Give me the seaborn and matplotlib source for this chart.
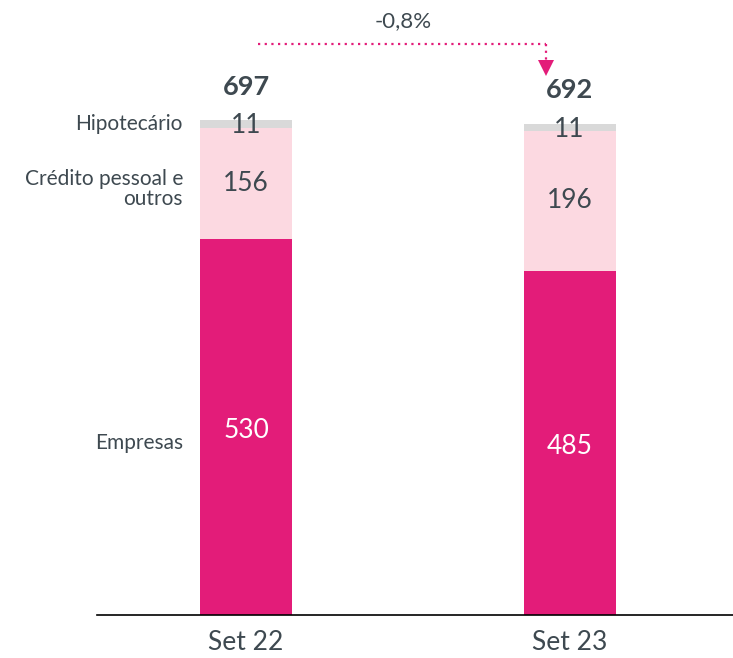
import numpy as np
import pandas as pd
import matplotlib.pyplot as plt
import seaborn as sns

# ==== Data ====
periods = ["Set 22", "Set 23"]
empresas = [530, 485]
credito = [156, 196]
hipotecario = [11, 11]
totals = [697, 692]
change_label = "-0,8%"
series_names = ["Empresas", "Crédito pessoal e\noutros", "Hipotecário"]

sns.set_theme(style="white")
plt.rcParams['font.family'] = ['Lato', 'DejaVu Sans']

txt = "#3E4950"
pink = "#E31C79"
light_pink = "#FCD9E1"
grey = "#D9D9D9"

df = pd.DataFrame({"period": periods, "empresas": empresas,
                   "credito": credito, "hipotecario": hipotecario})
df["base2"] = df["empresas"] + df["credito"]

fig = plt.figure(figsize=(7.33, 6.58), dpi=100)
ax = fig.add_axes([97 / 733, 1 - 615 / 658, 636 / 733, 615 / 658])

w = 0.284
sns.barplot(data=df, x="period", y="empresas", color=pink, width=w, ax=ax,
            saturation=1, linewidth=0)
sns.barplot(data=df, x="period", y="credito", bottom=df["empresas"], color=light_pink,
            width=w, ax=ax, saturation=1, linewidth=0)
sns.barplot(data=df, x="period", y="hipotecario", bottom=df["base2"], color=grey,
            width=w, ax=ax, saturation=1, linewidth=0)

ax.set_xlim(-0.4606, 1.505)
ax.set_ylim(0, 866)

# segment labels
for i in range(len(periods)):
    ax.text(i, empresas[i] / 2 - 5, str(empresas[i]), ha="center", va="center",
            color="white", fontsize=19)
    ax.text(i, empresas[i] + credito[i] / 2, str(credito[i]), ha="center", va="center",
            color=txt, fontsize=19)
    ax.text(i, df["base2"][i] + 3, str(hipotecario[i]), ha="center", va="center",
            color=txt, fontsize=19)
    ax.text(i, totals[i] + 30, str(totals[i]), ha="center", va="bottom",
            color=txt, fontsize=19.5, fontweight="bold")

# category names on the left of first bar
lx = -0.195
ax.text(lx, df["base2"][0] + 5, series_names[2], ha="right", va="center", color=txt, fontsize=15)
ax.text(lx, empresas[0] + credito[0] / 2 - 8, series_names[1], ha="right", va="center",
        color=txt, fontsize=15, linespacing=1.05)
ax.text(lx, empresas[0] / 2 - 23, series_names[0], ha="right", va="center", color=txt, fontsize=15)

# change arrow
ya = 804
ax.plot([0.037, 0.927], [ya, ya], color=pink, linestyle=(0, (1, 2)), linewidth=1.6)
ax.plot([0.927, 0.927], [ya, 780], color=pink, linestyle=(0, (1, 2)), linewidth=1.6)
ax.plot(0.927, 770, marker="v", markersize=11, color=pink, markeredgewidth=0)
ax.text(0.487, 836, change_label, ha="center", va="center", color=txt, fontsize=16)

ax.set_xlabel("")
ax.set_ylabel("")
ax.set_yticks([])
ax.tick_params(axis="x", length=0, labelsize=19, labelcolor=txt, pad=11)
for s in ["top", "right", "left"]:
    ax.spines[s].set_visible(False)
ax.spines["bottom"].set_color("black")
ax.spines["bottom"].set_linewidth(1.2)

fig.savefig("out.png", dpi=100)
